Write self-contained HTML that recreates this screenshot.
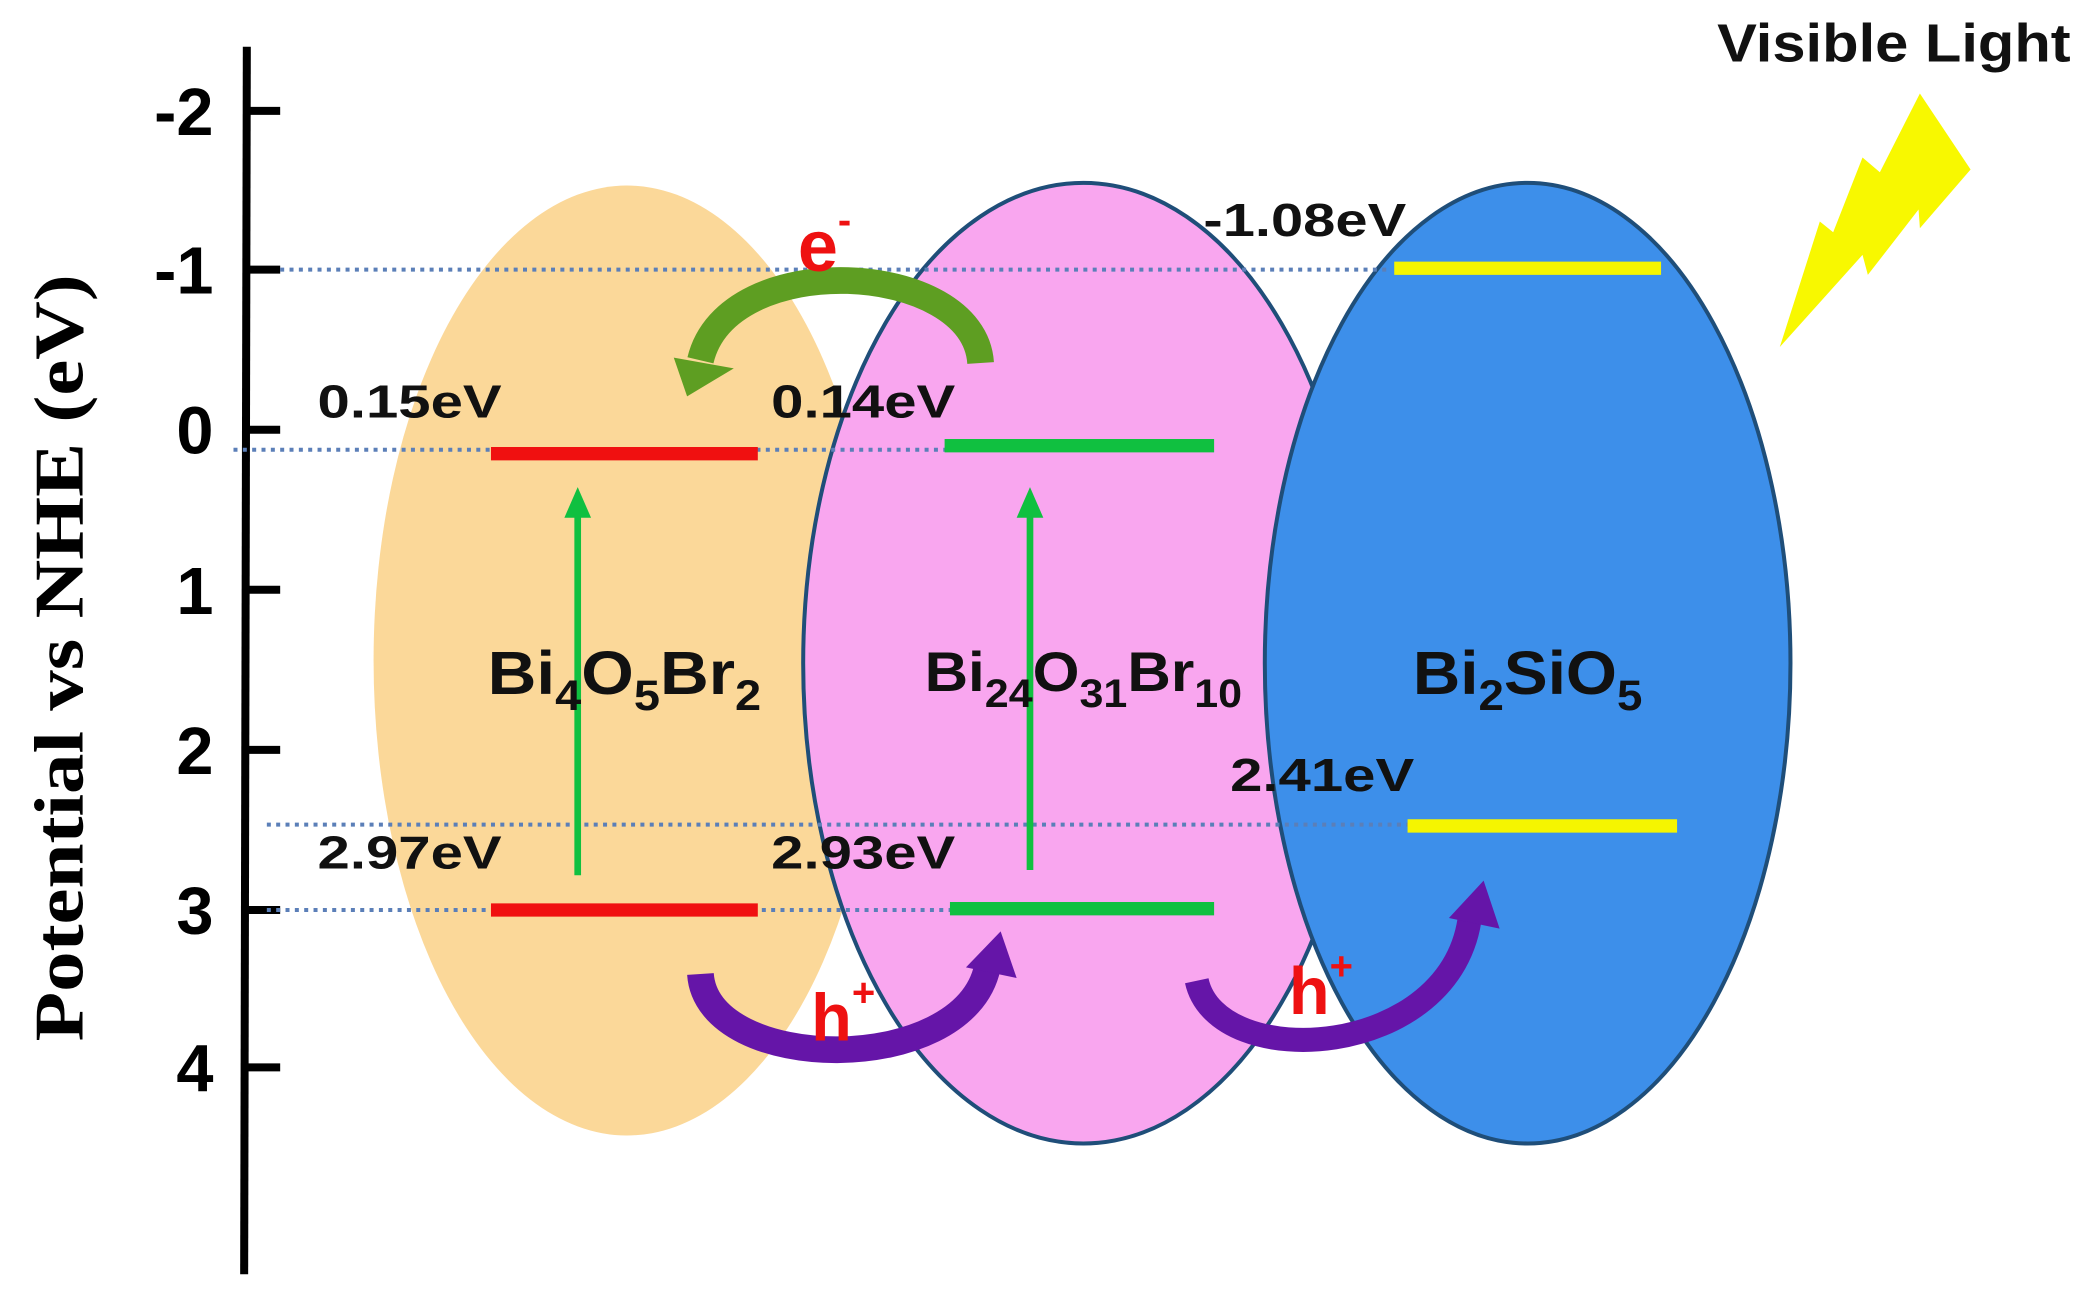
<!DOCTYPE html>
<html><head><meta charset="utf-8"><style>html,body{margin:0;padding:0;background:#fff}svg{display:block}</style></head>
<body>
<svg width="2092" height="1301" viewBox="0 0 1568 975" xmlns="http://www.w3.org/2000/svg">
<rect width="1568" height="975" fill="#fff"/>
<ellipse cx="470" cy="495" rx="190" ry="356" fill="#fbd899"/>
<ellipse cx="812" cy="497" rx="210" ry="360" fill="#f9a6ef" stroke="#1f4e79" stroke-width="3"/>
<ellipse cx="1145" cy="497" rx="197" ry="360" fill="#3d8fea" stroke="#1f4e79" stroke-width="3"/>
<!-- axis -->
<line x1="185" y1="35" x2="183" y2="955" stroke="#000" stroke-width="6"/>
<g stroke="#000" stroke-width="6">
<line x1="185" y1="83" x2="210" y2="83"/><line x1="185" y1="202" x2="210" y2="202"/>
<line x1="185" y1="322" x2="210" y2="322"/><line x1="185" y1="442" x2="210" y2="442"/>
<line x1="185" y1="562" x2="210" y2="562"/><line x1="185" y1="682" x2="210" y2="682"/>
<line x1="185" y1="800" x2="210" y2="800"/></g>
<g font-family="Liberation Sans, sans-serif" font-weight="bold" font-size="50" text-anchor="end" fill="#000">
<text x="160" y="101">-2</text><text x="160" y="220">-1</text><text x="160" y="340">0</text>
<text x="160" y="460">1</text><text x="160" y="580">2</text><text x="160" y="700">3</text><text x="160" y="818">4</text></g>
<text transform="translate(62,493) rotate(-90)" text-anchor="middle" font-family="Liberation Serif, serif" font-weight="bold" font-size="52" fill="#000" textLength="575" lengthAdjust="spacingAndGlyphs">Potential vs NHE (eV)</text>
<!-- dotted lines -->
<g stroke="#5b7fb8" stroke-width="3" stroke-dasharray="3,4">
<line x1="210" y1="202" x2="1040" y2="202"/>
<line x1="175" y1="337" x2="710" y2="337"/>
<line x1="200" y1="618" x2="1060" y2="618"/>
<line x1="200" y1="682" x2="712" y2="682"/></g>
<!-- bars -->
<g stroke-width="10">
<line x1="368" y1="340" x2="568" y2="340" stroke="#f01010"/>
<line x1="368" y1="682" x2="568" y2="682" stroke="#f01010"/>
<line x1="708" y1="334" x2="910" y2="334" stroke="#10c040"/>
<line x1="712" y1="681" x2="910" y2="681" stroke="#10c040"/>
<line x1="1045" y1="201" x2="1245" y2="201" stroke="#f5f500"/>
<line x1="1055" y1="619" x2="1257" y2="619" stroke="#f5f500"/></g>
<!-- green vertical arrows -->
<g stroke="#10c040" stroke-width="5" fill="#10c040">
<line x1="433" y1="656" x2="433" y2="385"/><polygon points="423,388 443,388 433,365" stroke="none"/>
<line x1="772" y1="652" x2="772" y2="385"/><polygon points="762,388 782,388 772,365" stroke="none"/></g>
<!-- labels -->
<g font-family="Liberation Sans, sans-serif" font-weight="bold" font-size="35" fill="#111">
<text x="238" y="313" textLength="138" lengthAdjust="spacingAndGlyphs">0.15eV</text><text x="578" y="313" textLength="138" lengthAdjust="spacingAndGlyphs">0.14eV</text>
<text x="238" y="651" textLength="138" lengthAdjust="spacingAndGlyphs">2.97eV</text><text x="578" y="651" textLength="138" lengthAdjust="spacingAndGlyphs">2.93eV</text>
<text x="902" y="177" textLength="152" lengthAdjust="spacingAndGlyphs">-1.08eV</text><text x="922" y="593" textLength="138" lengthAdjust="spacingAndGlyphs">2.41eV</text></g>
<g font-family="Liberation Sans, sans-serif" font-weight="bold" fill="#111" text-anchor="middle">
<text x="468" y="520" font-size="46" textLength="205" lengthAdjust="spacingAndGlyphs">Bi<tspan font-size="32" dy="12">4</tspan><tspan dy="-12">O</tspan><tspan font-size="32" dy="12">5</tspan><tspan dy="-12">Br</tspan><tspan font-size="32" dy="12">2</tspan></text>
<text x="812" y="518" font-size="42" textLength="238" lengthAdjust="spacingAndGlyphs">Bi<tspan font-size="30" dy="12">24</tspan><tspan dy="-12">O</tspan><tspan font-size="30" dy="12">31</tspan><tspan dy="-12">Br</tspan><tspan font-size="30" dy="12">10</tspan></text>
<text x="1145" y="520" font-size="46" textLength="172" lengthAdjust="spacingAndGlyphs">Bi<tspan font-size="32" dy="12">2</tspan><tspan dy="-12">SiO</tspan><tspan font-size="32" dy="12">5</tspan></text></g>
<!-- e- arrow -->
<path d="M735,272 C730,195 545,185 525,270" fill="none" stroke="#5e9e22" stroke-width="20"/>
<polygon points="505,268 550,276 515,297" fill="#5e9e22"/>
<text x="598" y="203" font-family="Liberation Sans, sans-serif" font-weight="bold" font-size="54" fill="#ee1111">e<tspan font-size="30" dy="-28">-</tspan></text>
<!-- h+ arrows -->
<path d="M525,730 C530,805 722,808 740,725" fill="none" stroke="#6515a8" stroke-width="20"/>
<polygon points="724,725 762,733 750,698" fill="#6515a8"/>
<path d="M897,735 C912,805 1090,795 1102,685" fill="none" stroke="#6515a8" stroke-width="18"/>
<polygon points="1086,688 1124,696 1112,660" fill="#6515a8"/>
<g font-family="Liberation Sans, sans-serif" font-weight="bold" font-size="50" fill="#ee1111">
<text x="608" y="780">h<tspan font-size="30" dy="-26">+</tspan></text>
<text x="966" y="760">h<tspan font-size="30" dy="-26">+</tspan></text></g>
<!-- lightning -->
<polygon points="1334,260 1364,166 1374,174 1396,118 1409,129 1439,70 1477,127 1439,171 1438,157 1400,206 1396,191" fill="#f8f800"/>
<text x="1287" y="46" font-family="Liberation Sans, sans-serif" font-weight="bold" font-size="40" fill="#111" textLength="265" lengthAdjust="spacingAndGlyphs">Visible Light</text>
</svg>
</body></html>
